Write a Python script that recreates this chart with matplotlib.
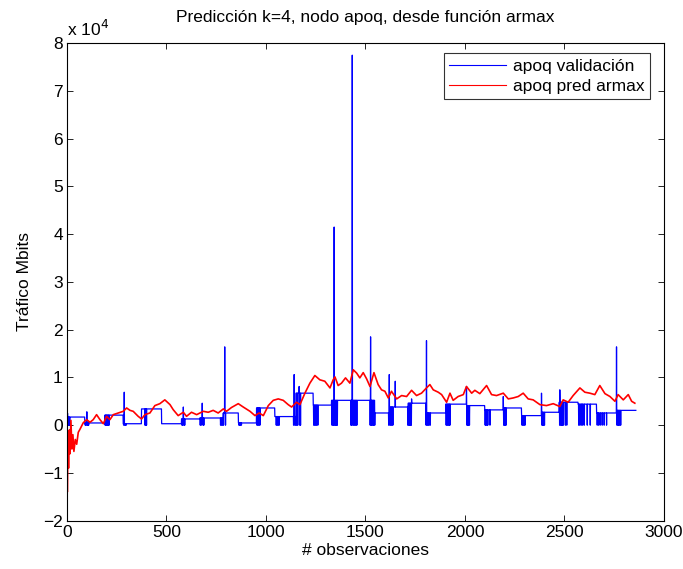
"""Predicción k=4 del nodo apoq con armax frente a la serie de validación."""

import matplotlib

matplotlib.use("Agg")
import matplotlib.pyplot as plt
import numpy as np

plt.rcParams["font.family"] = ["Liberation Sans", "DejaVu Sans"]

N_OBS = 2860
FS = 12.5

# Serie de validación (unidades de 1e4 Mbits): niveles por tramos
step_start = [0, 90, 191, 283, 375, 476, 576, 668, 786, 862, 953, 1045, 1150,
              1238, 1330, 1548, 1623, 1715, 1807, 1904, 2008, 2100, 2193, 2285,
              2385, 2474, 2569, 2662, 2762]
step_level = [0.17, 0.046, 0.21, 0.03, 0.34, 0.03, 0.13, 0.15, 0.255, 0.046,
              0.36, 0.18, 0.67, 0.42, 0.52, 0.255, 0.38, 0.46, 0.255, 0.44,
              0.41, 0.32, 0.36, 0.20, 0.27, 0.48, 0.44, 0.255, 0.31]

# Picos aislados
spike_x = [3, 100, 288, 585, 680, 793, 1142, 1167, 1343, 1434, 1526, 1620,
           1650, 1732, 1807, 2008, 2193, 2385, 2477, 2762]
spike_y = [0.25, 0.28, 0.69, 0.38, 0.46, 1.64, 1.06, 0.81, 4.15, 7.75, 1.85,
           1.06, 0.92, 0.55, 1.77, 0.81, 0.60, 0.67, 0.74, 1.64]

# Muestras que caen a cero dentro de las ráfagas
dip_x = [1, 5, 9, 14,
         92, 96, 101, 105, 109,
         192, 196, 200, 204, 208, 212,
         285, 290, 294, 298,
         392, 396, 400,
         578, 582, 588, 592,
         670, 675, 684, 688,
         772, 777, 782, 787, 797,
         864, 868, 872, 877,
         955, 960, 965, 970,
         1052, 1057, 1062, 1067,
         1139, 1145, 1150, 1155, 1160, 1170, 1174,
         1240, 1245, 1250, 1255, 1261,
         1332, 1337, 1341, 1346, 1350, 1355, 1359,
         1427, 1431, 1437, 1442, 1447, 1452, 1457,
         1524, 1529, 1533, 1538, 1542, 1547,
         1617, 1623, 1628, 1633, 1638,
         1713, 1718, 1722, 1727, 1731,
         1805, 1810, 1815, 1820, 1826,
         1906, 1911, 1916, 1921, 1925,
         2010, 2014, 2018, 2023,
         2102, 2106, 2111, 2115, 2126,
         2195, 2199, 2203, 2207,
         2287, 2292, 2297, 2302,
         2387, 2391, 2395, 2400,
         2476, 2481, 2486, 2490, 2495, 2505, 2512,
         2572, 2578, 2585, 2592, 2600, 2615, 2630,
         2665, 2672, 2680, 2690, 2700, 2712,
         2764, 2769, 2773, 2778, 2783]

# Predicción armax (unidades de 1e4 Mbits)
pred_x = [0, 2, 5, 8, 12, 15, 20, 25, 30, 35, 42, 49, 57, 65, 82, 99, 116,
          132, 149, 166, 183, 199, 216, 233, 258, 283, 300, 317, 333, 358, 375,
          392, 417, 442, 467, 492, 518, 534, 559, 585, 601, 626, 652, 685, 710,
          735, 760, 786, 802, 827, 861, 886, 920, 945, 966, 987, 1012, 1037,
          1062, 1087, 1112, 1129, 1154, 1171, 1196, 1221, 1246, 1271, 1296,
          1322, 1338, 1347, 1363, 1380, 1400, 1422, 1439, 1456, 1472, 1489,
          1506, 1523, 1543, 1564, 1581, 1598, 1615, 1631, 1657, 1682, 1707,
          1732, 1757, 1782, 1807, 1824, 1841, 1866, 1883, 1908, 1925, 1941,
          1966, 1992, 2008, 2034, 2050, 2075, 2109, 2134, 2159, 2193, 2218,
          2243, 2268, 2293, 2318, 2343, 2377, 2410, 2444, 2477, 2494, 2519,
          2544, 2578, 2603, 2628, 2653, 2678, 2704, 2729, 2754, 2770, 2796,
          2821, 2838, 2854]
pred_y = [0.25, -1.40, -0.30, -0.90, -0.10, -0.60, 0.10, -0.50, -0.20, -0.55,
          -0.30, -0.40, -0.15, -0.09, 0.05, 0.115, 0.06, 0.115, 0.22, 0.115,
          0.03, 0.185, 0.115, 0.22, 0.255, 0.29, 0.36, 0.31, 0.29, 0.185, 0.13,
          0.22, 0.255, 0.41, 0.45, 0.53, 0.43, 0.325, 0.20, 0.27, 0.185, 0.27,
          0.22, 0.29, 0.27, 0.31, 0.255, 0.34, 0.29, 0.37, 0.45, 0.38, 0.29,
          0.20, 0.255, 0.20, 0.41, 0.52, 0.55, 0.52, 0.43, 0.38, 0.48, 0.43,
          0.67, 0.88, 1.04, 0.95, 0.92, 0.78, 0.95, 1.01, 0.83, 0.88, 0.99,
          0.88, 1.16, 1.09, 0.99, 1.10, 0.97, 0.81, 1.10, 0.85, 0.74, 0.71,
          0.57, 0.71, 0.55, 0.62, 0.60, 0.73, 0.62, 0.67, 0.78, 0.85, 0.74,
          0.69, 0.64, 0.48, 0.67, 0.52, 0.60, 0.64, 0.81, 0.67, 0.73, 0.66,
          0.83, 0.64, 0.62, 0.67, 0.55, 0.57, 0.60, 0.67, 0.55, 0.53, 0.43,
          0.41, 0.45, 0.39, 0.53, 0.48, 0.62, 0.78, 0.69, 0.67, 0.64, 0.83,
          0.66, 0.60, 0.50, 0.64, 0.53, 0.64, 0.50, 0.46]

# Construir la serie de validación muestra a muestra
obs = np.arange(N_OBS)
valid = np.empty(N_OBS)
bounds = step_start[1:] + [N_OBS]
for s, e, lv in zip(step_start, bounds, step_level):
    valid[s:e] = lv
valid[dip_x] = 0.0
valid[spike_x] = spike_y

fig = plt.figure(figsize=(6.83, 5.69), dpi=100)
ax = fig.add_axes([0.098, 0.085, 0.874, 0.839])

ax.plot(obs, valid, color="blue", linewidth=0.9, label="apoq validación")
ax.plot(pred_x, pred_y, color="red", linewidth=1.2, label="apoq pred armax")

ax.set_xlim(0, 3000)
ax.set_ylim(-2, 8)
ax.set_xticks(np.arange(0, 3001, 500))
ax.set_yticks(np.arange(-2, 9, 1))
ax.set_yticklabels(["\u22122", "\u22121"] + [str(v) for v in range(0, 9)])
ax.tick_params(direction="in", top=True, right=True, length=4, width=0.6,
               labelsize=FS, pad=3)
for sp in ax.spines.values():
    sp.set_linewidth(0.8)

ax.text(0.0, 1.008, r"x 10$^4$", transform=ax.transAxes, fontsize=FS,
        ha="left", va="bottom")
ax.set_title("Predicción k=4, nodo apoq, desde función armax", fontsize=FS,
             pad=15)
ax.set_xlabel("# observaciones", fontsize=FS, labelpad=2)
ax.set_ylabel("Tráfico Mbits", fontsize=FS, labelpad=8)

leg = ax.legend(loc="upper right", bbox_to_anchor=(0.9765, 0.979),
                borderaxespad=0, fontsize=FS, frameon=True, fancybox=False,
                shadow=False, handlelength=3.3, handletextpad=0.4,
                borderpad=0.3, labelspacing=0.3)
leg.get_frame().set_edgecolor("black")
leg.get_frame().set_linewidth(0.8)
for ln in leg.get_lines():
    ln.set_linewidth(0.8)

fig.savefig("out.png", dpi=100)
